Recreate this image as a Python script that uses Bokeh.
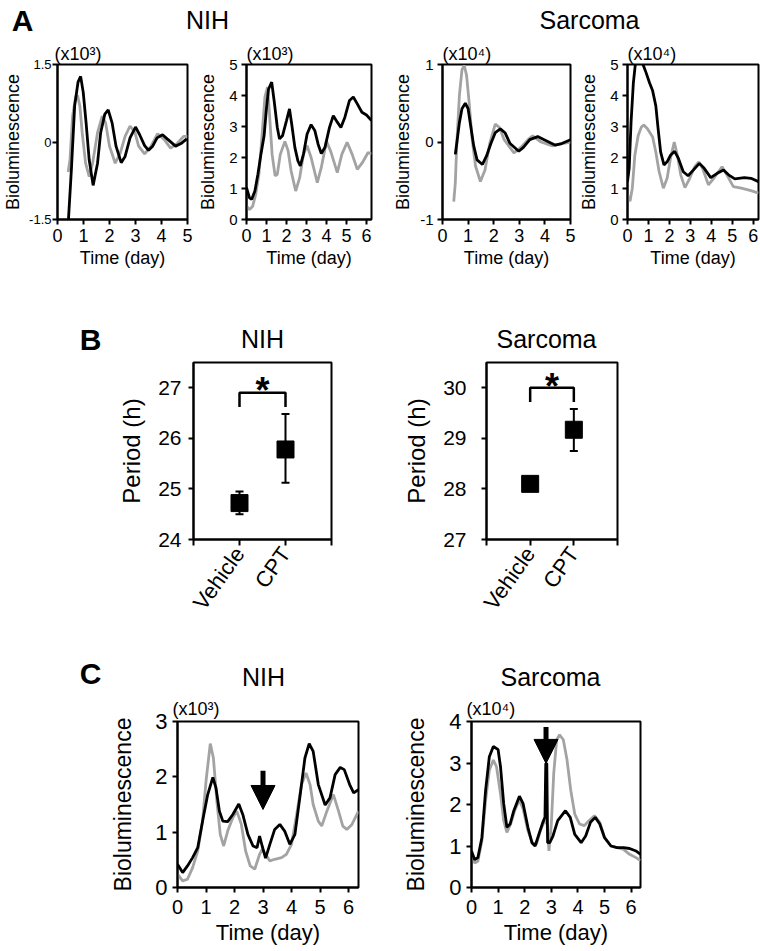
from bokeh.plotting import figure
from bokeh.layouts import column, row
from bokeh.models import (Range1d, FixedTicker, Whisker, TeeHead, Arrow, NormalHead,
                          ColumnDataSource)
from bokeh.core.properties import value
from bokeh.embed import file_html
from bokeh.resources import INLINE

FONT = "Liberation Sans"
GRAY = "#a3a3a3"

# ---------------- Panel A data (days, bioluminescence) ----------------
a1_black_day = [0.41, 0.54, 0.66, 0.79, 0.89, 0.99, 1.10, 1.22, 1.37, 1.54, 1.66, 1.82, 1.95, 2.10,
                2.25, 2.45, 2.60, 2.79, 3.00, 3.16, 3.35, 3.50, 3.66, 3.83, 4.04, 4.22, 4.54, 4.75, 4.97]
a1_black = [-1.60, -0.48, 0.70, 1.16, 1.27, 0.96, 0.37, -0.35, -0.84, -0.41, 0.18, 0.54, 0.62, 0.37,
            -0.08, -0.40, -0.28, 0.08, 0.29, 0.14, -0.07, -0.16, -0.08, 0.08, 0.14, 0.06, -0.08, -0.03, 0.06]
a1_gray_day = [0.41, 0.48, 0.58, 0.70, 0.77, 0.86, 0.95, 1.08, 1.22, 1.35, 1.54, 1.72, 1.85, 2.00,
               2.22, 2.41, 2.60, 2.79, 2.98, 3.12, 3.35, 3.60, 3.85, 4.10, 4.35, 4.60, 4.85, 5.00]
a1_gray = [-0.58, -0.35, 0.50, 0.88, 0.90, 0.70, 0.18, -0.41, -0.67, -0.41, 0.18, 0.50, 0.37, -0.08,
           -0.41, -0.22, 0.11, 0.31, 0.18, -0.08, -0.23, -0.08, 0.16, 0.05, -0.12, -0.03, 0.11, 0.11]

a2_black_day = [0, 0.15, 0.26, 0.42, 0.57, 0.72, 0.88, 1.00, 1.10, 1.26, 1.38, 1.54, 1.65, 1.80, 2.00,
                2.15, 2.26, 2.42, 2.57, 2.69, 2.85, 3.03, 3.23, 3.42, 3.58, 3.74, 3.92, 4.15, 4.34,
                4.54, 4.72, 4.92, 5.15, 5.34, 5.54, 5.77, 6.00, 6.25]
a2_black = [1.03, 0.70, 0.65, 0.92, 1.46, 2.10, 2.70, 3.60, 4.20, 4.43, 3.84, 2.97, 2.60, 2.70, 3.19,
            3.57, 3.08, 2.32, 1.89, 1.73, 2.11, 2.76, 3.06, 2.86, 2.43, 2.13, 2.32, 2.97, 3.35,
            3.14, 2.97, 3.30, 3.84, 3.95, 3.73, 3.46, 3.37, 3.19]
a2_gray_day = [0, 0.15, 0.31, 0.46, 0.62, 0.77, 0.92, 1.05, 1.15, 1.28, 1.43, 1.54, 1.69, 1.92, 2.08,
               2.23, 2.46, 2.66, 2.85, 3.03, 3.23, 3.54, 3.74, 4.00, 4.20, 4.54, 4.77, 5.03, 5.28,
               5.54, 5.80, 6.08, 6.25]
a2_gray = [0.43, 0.32, 0.43, 0.81, 1.46, 2.65, 3.95, 4.27, 3.41, 2.10, 1.41, 1.46, 2.10, 2.52, 2.22,
           1.57, 0.92, 1.35, 2.11, 2.38, 2.00, 1.19, 1.68, 2.52, 2.22, 1.51, 2.11, 2.49, 2.11,
           1.62, 1.84, 2.16, 2.11]

a3_black_day = [0.50, 0.56, 0.66, 0.76, 0.89, 1.00, 1.10, 1.22, 1.35, 1.56, 1.72, 1.89, 2.06, 2.26,
                2.44, 2.64, 2.98, 3.16, 3.41, 3.72, 3.97, 4.39, 4.66, 5.00]
a3_black = [-0.16, -0.01, 0.25, 0.43, 0.50, 0.43, 0.21, -0.05, -0.23, -0.29, -0.18, -0.02, 0.12, 0.17,
            0.12, -0.02, -0.12, -0.07, 0.03, 0.07, 0.03, -0.04, -0.02, 0.03]
a3_gray_day = [0.44, 0.50, 0.56, 0.66, 0.76, 0.85, 0.94, 1.04, 1.16, 1.29, 1.48, 1.66, 1.85, 2.06,
               2.22, 2.41, 2.79, 3.06, 3.34, 3.52, 3.85, 4.29, 4.66, 5.00]
a3_gray = [-0.77, -0.53, -0.01, 0.60, 0.93, 0.99, 0.86, 0.51, 0.03, -0.31, -0.51, -0.36, -0.01, 0.23,
           0.19, 0.03, -0.14, -0.07, 0.03, 0.08, 0.00, -0.05, -0.02, 0.00]

a4_black_day = [0, 0.08, 0.17, 0.28, 0.38, 0.55, 0.74, 0.89, 1.05, 1.20, 1.35, 1.46, 1.58, 1.74, 1.89,
                2.05, 2.25, 2.43, 2.66, 2.89, 3.15, 3.43, 3.66, 3.97, 4.28, 4.58, 4.82, 5.12, 5.58,
                5.89, 6.25]
a4_black = [1.22, 1.65, 3.14, 4.41, 5.05, 5.50, 5.00, 4.73, 4.41, 4.15, 3.67, 2.93, 2.18, 1.76, 1.86,
            2.07, 2.20, 1.97, 1.54, 1.41, 1.60, 1.81, 1.65, 1.35, 1.49, 1.60, 1.44, 1.31, 1.35,
            1.33, 1.22]
a4_gray_day = [0, 0.12, 0.23, 0.35, 0.51, 0.66, 0.78, 0.95, 1.20, 1.35, 1.51, 1.71, 1.89, 2.05, 2.23,
               2.38, 2.54, 2.74, 2.97, 3.20, 3.40, 3.58, 3.86, 4.12, 4.51, 4.74, 5.05, 5.43, 5.89, 6.25]
a4_gray = [0.80, 0.59, 1.01, 2.07, 2.71, 2.98, 3.05, 2.93, 2.66, 2.18, 1.54, 1.01, 1.33, 1.97, 2.50,
           2.07, 1.44, 1.03, 1.33, 1.70, 1.86, 1.65, 1.12, 1.33, 1.70, 1.44, 1.06, 1.01, 0.93, 0.85]

# ---------------- Panel B data (period, h) ----------------
b_pos = [1, 2]
b_tick_labels = {0: "", 1: "Vehicle", 2: "CPT", 3: ""}
nih_period = [24.72, 25.78]
nih_low = [24.50, 25.12]
nih_high = [24.95, 26.48]
sar_period = [28.10, 29.17]
sar_low = [28.05, 28.75]
sar_high = [28.15, 29.58]
nih_bracket = [26.62, 26.90]   # leg bottom, bar
sar_bracket = [29.72, 30.00]
nih_star_y = [26.95]
sar_star_y = [30.03]

# ---------------- Panel C data ----------------
c1_black_day = [0, 0.18, 0.35, 0.53, 0.71, 0.88, 1.06, 1.24, 1.35, 1.47, 1.59, 1.76, 1.94, 2.15, 2.29,
                2.47, 2.65, 2.79, 2.88, 2.97, 3.09, 3.24, 3.41, 3.59, 3.76, 3.94, 4.12, 4.29, 4.47,
                4.62, 4.76, 4.94, 5.18, 5.35, 5.53, 5.71, 5.85, 6.04, 6.18, 6.35]
c1_black = [0.42, 0.27, 0.39, 0.54, 0.72, 1.20, 1.68, 1.99, 1.80, 1.38, 1.20, 1.19, 1.32, 1.51, 1.32,
            0.96, 0.75, 0.72, 0.93, 0.75, 0.53, 0.78, 1.05, 1.14, 1.02, 0.78, 0.96, 1.62, 2.34,
            2.60, 2.46, 1.86, 1.49, 1.62, 2.04, 2.17, 2.13, 1.86, 1.71, 1.77]
c1_gray_day = [0, 0.18, 0.35, 0.53, 0.71, 0.88, 1.00, 1.15, 1.26, 1.38, 1.50, 1.62, 1.76, 1.94, 2.08,
               2.24, 2.39, 2.55, 2.71, 2.88, 2.97, 3.09, 3.24, 3.41, 3.65, 3.82, 4.00, 4.18, 4.35,
               4.51, 4.65, 4.76, 4.94, 5.06, 5.24, 5.47, 5.65, 5.80, 5.94, 6.12, 6.35]
c1_gray = [0.24, 0.12, 0.15, 0.36, 0.66, 1.20, 1.92, 2.60, 2.34, 1.56, 0.96, 0.75, 1.02, 1.26, 1.38,
           1.14, 0.66, 0.39, 0.33, 0.60, 0.69, 0.60, 0.48, 0.51, 0.54, 0.60, 0.78, 1.32, 1.86,
           2.07, 1.86, 1.50, 1.20, 1.11, 1.38, 1.68, 1.38, 1.11, 1.05, 1.14, 1.38]
c1_arrow = [3.00, 2.11, 1.41]   # day, top, tip

c2_black_day = [0, 0.12, 0.24, 0.39, 0.53, 0.67, 0.82, 1.00, 1.09, 1.21, 1.33, 1.45, 1.59, 1.80, 1.94,
                2.12, 2.27, 2.39, 2.53, 2.68, 2.76, 2.79, 2.83, 2.86, 2.94, 3.06, 3.24, 3.53, 3.71,
                3.88, 4.12, 4.29, 4.47, 4.65, 4.82, 5.00, 5.24, 5.47, 5.71, 5.94, 6.18, 6.35]
c2_black = [0.88, 0.67, 0.72, 1.20, 2.34, 3.15, 3.40, 3.32, 2.91, 2.02, 1.45, 1.53, 1.85, 2.20, 2.02,
            1.45, 1.08, 1.00, 1.28, 1.57, 1.69, 2.99, 2.99, 1.08, 1.08, 1.24, 1.61, 1.85, 1.69,
            1.28, 1.08, 1.24, 1.57, 1.69, 1.53, 1.20, 1.00, 0.96, 0.96, 0.94, 0.88, 0.80]
c2_gray_day = [0, 0.12, 0.24, 0.39, 0.53, 0.67, 0.82, 0.94, 1.09, 1.21, 1.33, 1.47, 1.62, 1.80, 1.94,
               2.12, 2.29, 2.44, 2.59, 2.74, 2.84, 2.91, 3.00, 3.09, 3.20, 3.31, 3.45, 3.59, 3.73,
               3.88, 4.06, 4.24, 4.41, 4.62, 4.82, 5.00, 5.24, 5.47, 5.71, 5.94, 6.18, 6.35]
c2_gray = [0.80, 0.59, 0.63, 1.12, 2.10, 2.83, 3.07, 2.91, 2.26, 1.61, 1.33, 1.53, 1.85, 2.11, 1.89,
           1.37, 1.08, 1.04, 1.37, 1.61, 1.53, 0.88, 1.53, 2.75, 3.56, 3.68, 3.56, 3.07, 2.34,
           1.77, 1.53, 1.49, 1.61, 1.73, 1.57, 1.20, 1.00, 0.96, 0.92, 0.80, 0.72, 0.65]
c2_arrow = [2.80, 3.87, 2.99]


def base_fig(w, h, bl, br, bt, bb, xr, yr):
    p = figure(width=w, height=h, x_range=Range1d(*xr), y_range=Range1d(*yr),
               toolbar_location=None, output_backend="svg",
               min_border_left=bl, min_border_right=br, min_border_top=bt, min_border_bottom=bb)
    p.grid.visible = False
    p.outline_line_color = "black"
    p.outline_line_width = 2
    p.outline_line_alpha = 1
    p.background_fill_color = "white"
    p.border_fill_color = "white"
    for ax in (p.xaxis[0], p.yaxis[0]):
        ax.axis_line_width = 2
        ax.axis_line_color = "black"
        ax.major_tick_line_width = 2
        ax.major_tick_line_color = "black"
        ax.major_tick_in = 0
        ax.major_tick_out = 5
        ax.minor_tick_line_color = None
        ax.major_label_text_font = FONT
        ax.axis_label_text_font = FONT
        ax.axis_label_text_font_style = "normal"
        ax.major_label_text_color = "black"
        ax.axis_label_text_color = "black"
    return p


def set_title(p, text, size, offset, standoff):
    p.title.text = text
    p.title.align = "left"
    p.title.offset = offset
    p.title.standoff = standoff
    p.title.text_font = FONT
    p.title.text_font_size = size
    p.title.text_font_style = "normal"
    p.title.text_color = "black"


def ts_fig(w, h, bl, br, bt, bb, xmax, yr, yticks, ylabels, xticks,
           gx, gy, kx, ky, unit, fs, ylab_standoff, ytick_standoff, xtick_standoff,
           xlab_standoff, toff, tstand):
    p = base_fig(w, h, bl, br, bt, bb, (0, xmax), yr)
    p.line(gx, gy, line_color=GRAY, line_width=2.8)
    p.line(kx, ky, line_color="black", line_width=2.8)
    p.xaxis.ticker = FixedTicker(ticks=xticks)
    p.yaxis.ticker = FixedTicker(ticks=yticks)
    p.yaxis.major_label_overrides = dict(zip(yticks, ylabels))
    p.xaxis.axis_label = "Time (day)"
    p.yaxis.axis_label = "Bioluminescence"
    p.yaxis.major_label_text_font_size = fs["ytick"]
    p.xaxis.major_label_text_font_size = fs["xtick"]
    p.xaxis.axis_label_text_font_size = fs["xlab"]
    p.yaxis.axis_label_text_font_size = fs["ylab"]
    p.yaxis.axis_label_standoff = ylab_standoff
    p.yaxis.major_label_standoff = ytick_standoff
    p.xaxis.major_label_standoff = xtick_standoff
    p.xaxis.axis_label_standoff = xlab_standoff
    set_title(p, unit, fs["unit"], toff, tstand)
    return p


fsA1 = dict(ytick="13px", xtick="18px", xlab="18px", ylab="18px", unit="18px")
fsA = dict(ytick="15px", xtick="18px", xlab="18px", ylab="18px", unit="18px")
fsC = dict(ytick="22px", xtick="20px", xlab="22px", ylab="23px", unit="18px")

a1 = ts_fig(195, 232, 55, 8, 24, 53, 5, (-1.5, 1.5), [-1.5, 0, 1.5], ["-1.5", "0", "1.5"],
            [0, 1, 2, 3, 4, 5], a1_gray_day, a1_gray, a1_black_day, a1_black, "(x10³)", fsA1,
            3, 1, 4, 3, -3, 2)
a2 = ts_fig(195, 232, 45, 19, 24, 53, 6.25, (0, 5), [0, 1, 2, 3, 4, 5], ["0", "1", "2", "3", "4", "5"],
            [0, 1, 2, 3, 4, 5, 6], a2_gray_day, a2_gray, a2_black_day, a2_black, "(x10³)", fsA,
            8, 4, 4, 3, 0, 2)
a3 = ts_fig(186, 232, 45, 6, 24, 53, 5, (-1, 1), [-1, 0, 1], ["-1", "0", "1"],
            [0, 1, 2, 3, 4, 5], a3_gray_day, a3_gray, a3_black_day, a3_black, "(x10⁴)", fsA,
            4, 4, 4, 3, 0, 2)
a4 = ts_fig(184, 232, 44, 2, 24, 53, 6.25, (0, 5), [0, 1, 2, 3, 4, 5], ["0", "1", "2", "3", "4", "5"],
            [0, 1, 2, 3, 4, 5, 6], a4_gray_day, a4_gray, a4_black_day, a4_black, "(x10⁴)", fsA,
            8, 4, 4, 3, 0, 2)

c1 = ts_fig(400, 255, 177, 42, 26, 62, 6.35, (0, 3), [0, 1, 2, 3], ["0", "1", "2", "3"],
            [0, 1, 2, 3, 4, 5, 6], c1_gray_day, c1_gray, c1_black_day, c1_black, "(x10³)", fsC,
            16, 5, 7, 3, -5, 5)
c2 = ts_fig(360, 255, 60, 120, 26, 62, 6.35, (0, 4), [0, 1, 2, 3, 4], ["0", "1", "2", "3", "4"],
            [0, 1, 2, 3, 4, 5, 6], c2_gray_day, c2_gray, c2_black_day, c2_black, "(x10⁴)", fsC,
            17, 5, 7, 3, -5, 5)

for p, arr in ((c1, c1_arrow), (c2, c2_arrow)):
    p.add_layout(Arrow(end=NormalHead(size=24, fill_color="black", line_color="black", line_width=1),
                       x_start=arr[0], y_start=arr[1], x_end=arr[0], y_end=arr[2],
                       line_width=5, line_color="black"))


def period_fig(w, bl, br, yr, yticks, period, low, high, bracket, star_y, tick_standoff, lab_standoff):
    p = base_fig(w, 266, bl, br, 4, 84, (0, 3), yr)
    p.yaxis.ticker = FixedTicker(ticks=yticks)
    p.xaxis.ticker = FixedTicker(ticks=[0, 1, 2, 3])
    p.xaxis.major_label_overrides = b_tick_labels
    p.xaxis.major_label_orientation = 0.95
    p.xaxis.major_label_text_font_size = "22px"
    p.xaxis.major_label_standoff = 4
    p.xaxis.major_tick_out = 6
    p.yaxis.major_tick_out = 5
    p.yaxis.major_label_text_font_size = "21px"
    p.yaxis.major_label_standoff = tick_standoff
    p.yaxis.axis_label = "Period (h)"
    p.yaxis.axis_label_text_font_size = "24px"
    p.yaxis.axis_label_standoff = lab_standoff
    src = ColumnDataSource(dict(x=b_pos, y=period, lo=low, hi=high))
    p.add_layout(Whisker(source=src, base="x", lower="lo", upper="hi", line_width=2, line_color="black",
                         upper_head=TeeHead(size=8, line_width=2, line_color="black"),
                         lower_head=TeeHead(size=8, line_width=2, line_color="black")))
    p.scatter("x", "y", source=src, marker="square", size=17, color="black")
    bx = [b_pos[0], b_pos[0], b_pos[1], b_pos[1]]
    by = [bracket[0], bracket[1], bracket[1], bracket[0]]
    p.line(bx, by, line_color="black", line_width=2.5)
    p.text(x=[(b_pos[0] + b_pos[1]) / 2], y=star_y, text=["*"], text_align="center",
           text_baseline="middle", text_font=value(FONT), text_font_size="36px",
           text_font_style="bold", text_color="black")
    return p


b1 = period_fig(400, 193, 69, (24, 27.5), [24, 25, 26, 27], nih_period, nih_low, nih_high,
                nih_bracket, nih_star_y, 7, 10)
b2 = period_fig(360, 79, 143, (27, 30.5), [27, 28, 29, 30], sar_period, sar_low, sar_high,
                sar_bracket, sar_star_y, 15, 10)


def header(h, items):
    p = figure(width=760, height=h, x_range=Range1d(0, 760), y_range=Range1d(h, 0),
               toolbar_location=None, output_backend="svg", x_axis_location=None,
               y_axis_location=None, min_border=0)
    p.outline_line_color = None
    p.grid.visible = False
    for x, y, t, size, style in items:
        p.text(x=[x], y=[y], text=[t], text_align="center", text_baseline="middle",
               text_font=value(FONT), text_font_size=size, text_font_style=style, text_color="black")
    return p


hA = header(40, [(22, 20, "A", "30px", "bold"), (207, 19, "NIH", "25px", "normal"),
                 (589, 19, "Sarcoma", "25px", "normal")])
hB = header(86, [(90, 67, "B", "30px", "bold"), (262, 66, "NIH", "25px", "normal"),
                 (546, 66, "Sarcoma", "25px", "normal")])
hC = header(70, [(90, 49, "C", "30px", "bold"), (263, 52, "NIH", "25px", "normal"),
                 (550, 52, "Sarcoma", "25px", "normal")])

layout = column(hA, row(a1, a2, a3, a4), hB, row(b1, b2), hC, row(c1, c2))

open("out.html", "w").write(file_html(layout, INLINE))
